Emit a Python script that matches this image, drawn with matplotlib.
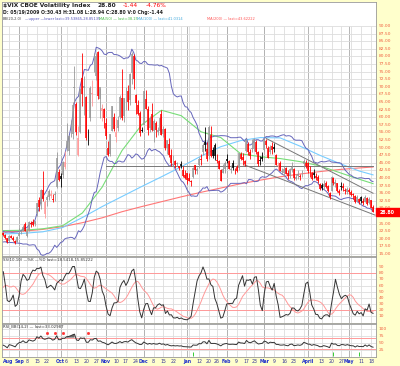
import numpy as np
import pandas as pd
import matplotlib
matplotlib.use("Agg")
import matplotlib.pyplot as plt
from matplotlib.patches import Rectangle

# trading days shown
holidays = ["2008-09-01", "2008-11-27", "2008-12-25", "2009-01-01",
            "2009-01-19", "2009-02-16", "2009-04-10"]
dates = pd.bdate_range("2008-08-20", "2009-05-19")
dates = dates[~dates.isin(pd.to_datetime(holidays))]

# daily OHLC, Aug 20 2008 .. May 19 2009
opens = [21.9, 21.2, 20.2, 19.2, 20.9, 20.4, 19.4, 18.9,
         21.0, 22.3, 22.7, 24.9, 21.0, 22.8, 25.2, 25.6, 24.9, 28.4, 32.7, 31.6, 35.9, 28.0, 32.7, 33.8, 34.0, 33.0, 34.3, 37.2, 42.0,
         40.7, 40.9, 43.5, 50.0, 48.8, 57.5, 54.5, 69.7, 64.5, 47.5, 55.0, 73.0, 69.7, 66.7, 53.3, 59.6, 67.7, 79.0, 73.6, 81.3, 66.0, 62.0, 62.6,
         58.2, 50.0, 47.8, 55.6, 60.0, 53.5, 56.3, 60.0, 66.2, 60.5, 67.6, 68.5, 65.5, 74.5, 80.0, 67.4, 64.0, 61.4, 55.8,
         57.6, 66.0, 62.8, 56.3, 61.0, 55.3, 58.0, 55.0, 55.4, 61.2, 54.4, 56.0, 50.0, 51.1, 47.5, 45.9, 45.5, 44.5, 44.0, 44.5, 42.7, 41.0,
         41.6, 39.9, 38.9, 40.3, 44.2, 42.3, 44.2, 46.2, 48.5, 51.8, 49.6, 47.1, 54.0, 49.2, 50.8, 46.0, 45.5, 42.6, 41.7, 43.0,
         46.4, 45.6, 42.6, 44.8, 43.1, 43.5, 43.2, 47.8, 46.8, 45.5, 49.0, 51.3, 48.6, 49.5, 49.4, 52.0, 48.6, 46.0, 46.8,
         49.3, 52.3, 50.0, 48.4, 50.5, 50.3, 47.6, 44.0, 45.0, 42.0, 41.5, 43.2, 41.8, 40.8, 42.7, 42.8, 39.6, 40.6, 40.8, 41.2, 44.5, 44.8,
         44.8, 42.0, 41.7, 41.6, 40.8, 40.4, 38.0, 37.8, 36.9, 38.5, 37.4, 35.2, 35.8, 39.9, 38.0, 38.3, 35.6, 37.5, 37.3, 35.9, 35.4,
         36.0, 35.4, 34.6, 34.0, 32.3, 33.0, 33.6, 32.3, 32.2, 33.5, 31.9, 32.6, 30.4]
highs = [22.3, 21.6, 20.4, 21.1, 21.3, 20.8, 19.6, 20.9,
         23.6, 23.0, 24.7, 25.6, 23.5, 25.9, 25.9, 26.4, 25.8, 31.8, 33.8, 36.4, 42.2, 32.8, 34.3, 36.4, 36.0, 34.9, 35.6, 48.4, 43.1,
         41.6, 45.7, 49.0, 58.2, 54.2, 59.1, 64.9, 76.9, 65.0, 57.2, 69.6, 81.2, 73.5, 66.9, 56.0, 70.3, 72.1, 81.0, 81.2, 81.8, 69.7, 64.4, 63.1,
         59.7, 52.3, 54.6, 63.7, 61.4, 59.7, 60.4, 67.4, 76.0, 66.4, 69.8, 70.7, 74.4, 81.5, 80.9, 67.6, 65.7, 62.1, 56.8,
         68.6, 68.9, 63.6, 60.4, 64.8, 59.5, 58.9, 56.9, 60.2, 62.3, 57.0, 56.3, 52.6, 53.0, 49.5, 47.6, 45.9, 45.3, 44.1, 45.5, 43.8, 42.5,
         41.7, 41.5, 39.4, 43.7, 44.3, 43.7, 46.8, 47.9, 51.6, 56.7, 52.0, 57.4, 57.1, 50.1, 51.5, 48.0, 45.9, 42.9, 44.6, 45.5,
         47.8, 46.0, 44.3, 45.8, 43.4, 44.3, 48.2, 48.6, 48.3, 46.0, 53.0, 51.8, 49.7, 52.9, 53.2, 52.5, 49.0, 47.3, 48.4,
         53.0, 52.7, 50.4, 50.7, 51.7, 51.4, 47.9, 45.3, 45.6, 43.2, 43.9, 43.7, 42.5, 43.4, 45.3, 43.3, 41.4, 42.5, 41.2, 42.7, 46.4, 45.9,
         45.3, 43.8, 41.9, 42.8, 41.6, 41.0, 38.3, 38.5, 39.5, 38.9, 37.6, 35.4, 40.8, 40.4, 39.8, 38.4, 36.3, 38.8, 38.2, 36.7, 37.0,
         36.7, 36.0, 35.0, 34.4, 34.4, 33.5, 34.1, 33.3, 34.4, 33.7, 33.9, 32.9, 31.1]
lows = [20.9, 20.0, 18.7, 19.1, 20.1, 19.4, 18.4, 18.8,
        20.8, 21.5, 22.6, 22.6, 20.7, 22.4, 24.0, 24.1, 24.1, 27.4, 29.2, 29.8, 32.4, 27.0, 30.8, 32.7, 33.5, 32.1, 32.4, 36.6, 39.0,
        37.0, 39.9, 43.1, 48.9, 47.5, 53.5, 52.9, 65.0, 54.2, 47.1, 54.8, 63.7, 60.8, 52.5, 50.9, 58.6, 63.7, 74.9, 72.3, 66.1, 59.6, 58.9, 56.6,
        52.9, 47.3, 47.4, 55.3, 55.4, 52.0, 55.4, 59.3, 59.2, 58.3, 62.5, 62.4, 64.1, 71.0, 69.4, 61.2, 60.6, 53.8, 55.0,
        57.5, 62.6, 54.0, 55.0, 55.6, 52.0, 53.5, 54.1, 55.0, 54.3, 53.5, 49.2, 48.0, 46.8, 44.0, 44.0, 43.4, 44.0, 42.7, 43.2, 40.2, 39.8,
        38.1, 38.9, 37.3, 40.0, 41.4, 41.3, 43.3, 44.3, 47.6, 49.0, 45.5, 46.4, 47.0, 46.6, 46.0, 45.0, 42.8, 38.9, 41.6, 41.6,
        45.0, 42.8, 41.5, 42.6, 41.2, 42.0, 42.7, 45.9, 44.4, 44.1, 48.6, 47.6, 46.4, 48.4, 49.0, 47.8, 43.8, 44.3, 45.5,
        48.8, 49.8, 46.5, 47.9, 47.8, 48.4, 44.2, 42.6, 42.3, 41.2, 40.6, 41.2, 39.6, 39.9, 42.1, 39.4, 39.3, 39.7, 39.3, 40.4, 43.4, 43.3,
        41.6, 40.2, 39.4, 40.1, 39.5, 38.5, 36.0, 36.1, 36.4, 36.6, 35.3, 33.0, 35.6, 37.6, 37.2, 35.5, 34.5, 36.0, 35.8, 34.6, 34.8,
        34.8, 34.0, 33.0, 31.7, 32.1, 31.5, 31.8, 31.2, 32.0, 31.1, 31.4, 30.1, 28.8]
closes = [21.3, 20.4, 18.8, 20.9, 20.4, 19.6, 18.6, 20.6,
          22.0, 22.4, 24.0, 22.6, 22.6, 25.5, 24.9, 24.4, 25.7, 31.7, 30.3, 36.2, 33.1, 32.1, 33.8, 35.7, 34.9, 32.8, 34.7, 46.7, 39.4,
          39.8, 45.3, 45.1, 52.1, 53.7, 57.5, 63.9, 70.0, 55.0, 53.1, 69.3, 67.6, 70.3, 53.0, 53.1, 69.7, 67.8, 79.1, 80.1, 67.0, 70.0, 62.9, 59.9,
          53.7, 47.7, 54.6, 63.7, 56.1, 55.0, 59.2, 66.5, 59.8, 66.3, 67.6, 65.0, 74.3, 80.9, 72.7, 64.7, 60.9, 54.9, 55.3,
          68.5, 62.6, 55.7, 59.9, 55.8, 58.9, 55.7, 55.7, 59.9, 54.3, 56.2, 49.8, 52.4, 47.7, 44.9, 46.0, 44.2, 45.0, 43.4, 43.9, 40.6, 40.0,
          39.2, 39.1, 38.6, 43.4, 42.6, 42.8, 46.4, 45.8, 51.0, 51.0, 46.1, 56.7, 47.3, 47.3, 47.3, 45.7, 43.0, 39.1, 42.9, 44.8,
          45.5, 43.1, 43.1, 43.4, 42.8, 42.4, 48.1, 46.1, 45.9, 44.7, 52.6, 48.5, 47.3, 49.9, 52.7, 48.4, 44.7, 45.6, 46.4,
          52.7, 50.9, 46.7, 50.2, 49.3, 49.7, 44.4, 44.2, 42.4, 42.4, 43.0, 41.4, 40.5, 43.0, 43.6, 40.0, 40.4, 41.2, 40.3, 41.4, 45.5, 44.1,
          42.3, 41.9, 39.7, 40.9, 40.0, 38.9, 36.5, 36.6, 37.9, 37.0, 35.8, 33.9, 40.4, 38.4, 38.8, 35.8, 35.2, 37.0, 36.7, 35.6, 36.5,
          35.3, 34.5, 34.4, 32.1, 33.6, 32.1, 32.3, 31.8, 33.7, 31.4, 33.1, 30.2, 28.8]
# closes before the first bar, only used to warm up the indicators
prior_closes = [22.6, 22.0, 21.5, 22.3, 21.0, 20.3, 21.6, 20.0, 19.2, 20.4, 21.2,
                20.7, 19.5, 20.0, 21.0, 20.3, 19.3, 19.9, 20.8, 21.6, 22.0, 21.5]

# moving averages (bar index -> value)
ma_idx = [0, 10, 20, 30, 40, 50, 60, 70, 80, 90, 100, 110, 120, 130, 140, 150, 160, 170, 180, 187]
ma50 = [22.7, 22.8, 23.3, 24.3, 28.5, 37.0, 49.0, 57.5, 62.3, 60.5, 55.2, 53.3, 48.0, 47.0, 46.4, 45.4, 44.0, 41.8, 39.6, 38.15]
ma100 = [21.6, 21.8, 22.3, 23.7, 27.0, 30.6, 33.9, 37.2, 40.4, 43.7, 47.2, 50.3, 52.3, 53.3, 53.2, 50.5, 47.5, 44.8, 42.3, 41.03]
ma200 = [22.3, 22.5, 23.1, 24.0, 25.3, 26.9, 28.9, 30.6, 32.2, 33.8, 35.3, 36.7, 38.1, 39.3, 40.4, 41.3, 42.1, 42.8, 43.3, 43.62]

# trend lines (bar index, price)
trend_lines = [((52, 44.0), (187, 44.0)),
               ((133, 53.0), (187, 35.0)),
               ((122, 44.3), (188, 27.8))]

rsi_red_marks = [22, 26, 30, 43]
rsi_green_marks = [96, 167, 180]

n = len(closes)
npre = len(prior_closes)
idx = np.arange(n)

c_all = pd.Series(prior_closes + closes)
h_all = pd.Series(prior_closes + highs)
l_all = pd.Series(prior_closes + lows)

mid = c_all.rolling(20).mean()
sd = c_all.rolling(20).std(ddof=0)
bb_up = (mid + 2 * sd).values[npre:]
bb_lo = (mid - 2 * sd).values[npre:]

ll = l_all.rolling(10).min()
hh = h_all.rolling(10).max()
fast = 100 * (c_all - ll) / (hh - ll)
slow_k = fast.rolling(3).mean()
slow_d = slow_k.rolling(10).mean()
slow_k = slow_k.values[npre:]
slow_d = slow_d.values[npre:]

delta = c_all.diff()
gain = delta.clip(lower=0).ewm(alpha=1 / 14, adjust=False).mean()
loss = (-delta.clip(upper=0)).ewm(alpha=1 / 14, adjust=False).mean()
rsi = (100 - 100 / (1 + gain / loss)).values[npre:]

W, H = 400, 366
BG = "#FFFFCC"
LBL = "#F06040"
fig = plt.figure(figsize=(4, 3.66), dpi=100, facecolor=BG)


def pane(top, bottom):
    return fig.add_axes([2 / W, 1 - bottom / H, 374 / W, (bottom - top) / H])


ax = pane(2, 256)
ax2 = pane(257, 323)
ax3 = pane(324, 357)

xlim = (-0.66, 188.5)
for a in (ax, ax2, ax3):
    a.set_xlim(*xlim)
    a.set_xticks([])
    a.set_yticks([])
    a.set_facecolor("white")
    for s in a.spines.values():
        s.set_color("#999999")
        s.set_linewidth(0.6)

ax.set_ylim(14.34, 97.9)
ax2.set_ylim(-1.5, 106.9)
ax3.set_ylim(0, 119)

# vertical grid: week starts light, month starts darker
week = dates.to_series().dt.isocalendar().week.values
wk_start = [i for i in range(1, n) if week[i] != week[i - 1]]
mo_start = [i for i in range(1, n) if dates[i].month != dates[i - 1].month]
for a, lo, hi in ((ax, 14.34, 90), (ax2, -1.5, 106.9), (ax3, 0, 119)):
    a.vlines(wk_start, lo, hi, color="#DDDDDD", lw=0.6, zorder=0)
    a.vlines(mo_start, lo, hi, color="#AAAAAA", lw=0.6, zorder=0)

for v in np.arange(15, 90.1, 2.5):
    ax.axhline(v, color="#DDDDDD", lw=0.6, zorder=0)
    ax.text(1.008, v, f"{v:.2f}", transform=ax.get_yaxis_transform(),
            fontsize=3.2, color=LBL, va="center", ha="left", clip_on=False)

# moving averages and bands
ax.plot(ma_idx, ma200, color="#FF7777", lw=0.8, zorder=2)
ax.plot(ma_idx, ma100, color="#77CCFF", lw=0.8, zorder=2)
ax.plot(ma_idx, ma50, color="#77DD77", lw=0.8, zorder=2)
ax.plot(idx, bb_up, color="#6666BB", lw=0.7, zorder=2)
ax.plot(idx, bb_lo, color="#6666BB", lw=0.7, zorder=2)
for (x0, y0), (x1, y1) in trend_lines:
    ax.plot([x0, x1], [y0, y1], color="#777777", lw=0.7, zorder=2)

# candles
for i in range(n):
    prev = closes[i - 1] if i > 0 else prior_closes[-1]
    down = closes[i] < prev
    filled = closes[i] < opens[i]
    if down:
        col = "#FF0000" if filled else "#FF9999"
    else:
        col = "#000000" if filled else "#999999"
    ax.vlines(i, lows[i], highs[i], color=col, lw=0.6, zorder=3)
    ax.vlines(i, min(opens[i], closes[i]), max(opens[i], closes[i]),
              color=col, lw=1.1, zorder=3)

# last price tag
ax.add_patch(Rectangle((1.0, closes[-1] - 1.35), 24 / 374, 2.7,
                       transform=ax.get_yaxis_transform(), color="#FF0000",
                       clip_on=False, zorder=5))
ax.text(1.01, closes[-1], f"{closes[-1]:.2f}", transform=ax.get_yaxis_transform(),
        fontsize=3.4, color="white", fontweight="bold", va="center", ha="left",
        clip_on=False, zorder=6)


# header
def ftext(x, y, s, **kw):
    fig.text(x / W, 1 - y / H, s, va="center", ha="left", **kw)


ftext(3, 5.5, "$VIX CBOE Volatility Index", fontsize=4.2, fontweight="bold", color="#222222")
ftext(97, 5.5, "28.80", fontsize=4.2, fontweight="bold", color="#222222")
ftext(123, 5.5, "-1.44", fontsize=4.2, color="#FF0000")
ftext(146, 5.5, "-4.76%", fontsize=4.2, color="#FF0000")
ftext(3, 12.7, "D: 05/19/2009 O:30.43 H:31.08 L:28.94 C:28.80 V:0 Chg:-1.44",
      fontsize=3.3, fontweight="bold", color="#222222")
ftext(3, 19, "BB(20,2.0)", fontsize=2.6, color="#444444")
ftext(25, 19, "\u2014upper \u2014lower last=39.53865,28.85135", fontsize=2.6, color="#5555BB")
ftext(99, 19, "MA(50) \u2014 last=38.15", fontsize=2.6, color="#44BB44")
ftext(137, 19, "MA(100) \u2014 last=41.0314", fontsize=2.6, color="#44AADD")
ftext(207, 19, "MA(200) \u2014 last=43.62222", fontsize=2.6, color="#FF5555")

# slow stochastic
for v in range(10, 100, 10):
    ax2.axhline(v, color="#DDDDDD", lw=0.6, zorder=0)
    ax2.text(1.008, v, str(v), transform=ax2.get_yaxis_transform(),
             fontsize=3.2, color=LBL, va="center", ha="left", clip_on=False)
for v in (20, 80):
    ax2.axhline(v, color="#FF9999", lw=0.7, zorder=1)
ax2.plot(idx, slow_d, color="#FF9999", lw=0.7, zorder=2)
ax2.plot(idx, slow_k, color="#333333", lw=0.7, zorder=3)
ftext(3, 260, "SS(10,10) \u2014%K \u2014%D last=18.5418,15.85222", fontsize=2.8, color="#333333")

# RSI
for v in (25, 50, 75, 100):
    ax3.axhline(v, color="#DDDDDD", lw=0.6, zorder=0)
    ax3.text(1.008, v, str(v), transform=ax3.get_yaxis_transform(),
             fontsize=3.2, color=LBL, va="center", ha="left", clip_on=False)
for v in (30, 70):
    ax3.axhline(v, color="#FF9999", lw=0.7, zorder=1)
ax3.fill_between(idx, 70, rsi, where=rsi > 70, color="#666666", lw=0, zorder=2)
ax3.fill_between(idx, 30, rsi, where=rsi < 30, color="#666666", lw=0, zorder=2)
ax3.plot(idx, rsi, color="#333333", lw=0.7, zorder=3)
ax3.plot(rsi_red_marks, [88] * len(rsi_red_marks), ls="none", marker="s",
         ms=1.0, color="#FF3333", zorder=4)
ax3.plot(rsi_green_marks, [10] * len(rsi_green_marks), ls="none", marker="|",
         ms=2.5, mew=0.7, color="#33CC33", zorder=4)
ftext(3, 326.5, "RSI_BB(14,2) \u2014 last=33.02987", fontsize=2.8, color="#333333")

# date labels
tick_days = {"2008-09-08", "2008-09-15", "2008-09-22", "2008-10-06", "2008-10-13",
             "2008-10-20", "2008-10-27", "2008-11-10", "2008-11-17", "2008-11-24",
             "2008-12-08", "2008-12-15", "2008-12-22", "2009-01-12", "2009-01-20",
             "2009-01-26", "2009-02-09", "2009-02-17", "2009-02-23", "2009-03-09",
             "2009-03-16", "2009-03-23", "2009-04-13", "2009-04-20", "2009-04-27",
             "2009-05-11", "2009-05-18"}
for i, d in enumerate(dates):
    xp = 3.3 + 1.977 * i
    if i == 0 or i in mo_start:
        name = "April" if d.month == 4 else d.strftime("%b")
        fig.text(max(xp, 8) / W, 1 - 361.5 / H, name, fontsize=3.3, color="#2233CC",
                 fontweight="bold", ha="center", va="center")
    elif d.strftime("%Y-%m-%d") in tick_days:
        fig.text(xp / W, 1 - 361.5 / H, str(d.day), fontsize=3.3, color="#333399",
                 ha="center", va="center")

fig.savefig("out.png", dpi=100, facecolor=BG)
